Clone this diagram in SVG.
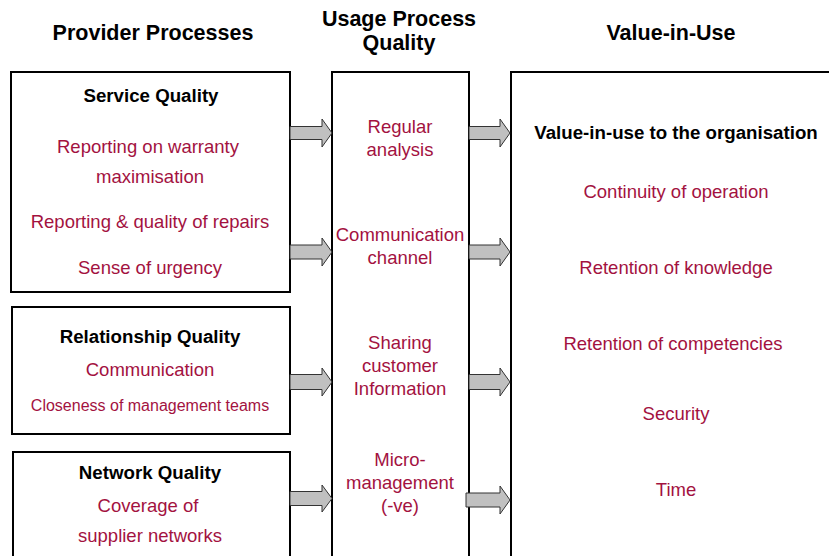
<svg xmlns="http://www.w3.org/2000/svg" width="829" height="556" viewBox="0 0 829 556">
<style>
text{font-family:"Liberation Sans",Arial,Helvetica,sans-serif;text-anchor:middle}
.h{font-size:21.5px;font-weight:bold;fill:#000}
.b{font-size:18.7px;font-weight:bold;fill:#000}
.r{font-size:18.5px;fill:#A3123F}
.s{font-size:16px;fill:#A3123F}
.box{fill:#fff;stroke:#000;stroke-width:2}
.arr{fill:#C0C0C0;stroke:#333;stroke-width:1}
</style>
<rect width="829" height="556" fill="#fff"/>
<g id="headers">
<text class="h" x="153" y="40">Provider Processes</text>
<text class="h" x="399" y="26">Usage Process</text>
<text class="h" x="399" y="50">Quality</text>
<text class="h" x="671" y="40">Value-in-Use</text>
</g>
<g id="service-quality">
<rect class="box" x="11" y="72" width="279" height="220"/>
<text class="b" x="151" y="102">Service Quality</text>
<text class="r" x="148" y="153">Reporting on warranty</text>
<text class="r" x="150" y="183">maximisation</text>
<text class="r" x="150" y="228">Reporting &amp; quality of repairs</text>
<text class="r" x="150" y="274">Sense of urgency</text>
</g>
<g id="relationship-quality">
<rect class="box" x="12" y="307" width="278" height="127"/>
<text class="b" x="150" y="343">Relationship Quality</text>
<text class="r" x="150" y="376">Communication</text>
<text class="s" x="150" y="411">Closeness of management teams</text>
</g>
<g id="network-quality">
<rect class="box" x="13" y="452" width="277" height="110"/>
<text class="b" x="150" y="479">Network Quality</text>
<text class="r" x="148" y="512">Coverage of</text>
<text class="r" x="150" y="542">supplier networks</text>
</g>
<g id="usage-process">
<rect class="box" x="332" y="72" width="137" height="490"/>
<text class="r" x="400" y="133">Regular</text>
<text class="r" x="400" y="156">analysis</text>
<text class="r" x="400" y="241">Communication</text>
<text class="r" x="400" y="264">channel</text>
<text class="r" x="400" y="349">Sharing</text>
<text class="r" x="400" y="372">customer</text>
<text class="r" x="400" y="395">Information</text>
<text class="r" x="400" y="466">Micro-</text>
<text class="r" x="400" y="489">management</text>
<text class="r" x="400" y="512">(-ve)</text>
</g>
<g id="value-in-use">
<rect class="box" x="511" y="72" width="330" height="490"/>
<text class="b" x="676" y="139">Value-in-use to the organisation</text>
<text class="r" x="676" y="198">Continuity of operation</text>
<text class="r" x="676" y="274">Retention of knowledge</text>
<text class="r" x="673" y="350">Retention of competencies</text>
<text class="r" x="676" y="420">Security</text>
<text class="r" x="676" y="496">Time</text>
</g>
<g id="connectors">
<path class="arr" d="M290,126.5H322V119L332,133L322,147V139.5H290Z"/>
<path class="arr" d="M290,245H322V238L332,252L322,266V259H290Z"/>
<path class="arr" d="M290,374.5H322V368L332,382L322,396V389.5H290Z"/>
<path class="arr" d="M290,491.5H322V485L332,498.5L322,512V505.5H290Z"/>
<path class="arr" d="M469,126.5H500V119L510,133L500,147V139.5H469Z"/>
<path class="arr" d="M469,245H500V238L510,252L500,266V259H469Z"/>
<path class="arr" d="M469,374.5H500V368L510,382L500,396V389.5H469Z"/>
<path class="arr" d="M466,493H500V486L510,500L500,514V507H466Z"/>
</g>
</svg>
